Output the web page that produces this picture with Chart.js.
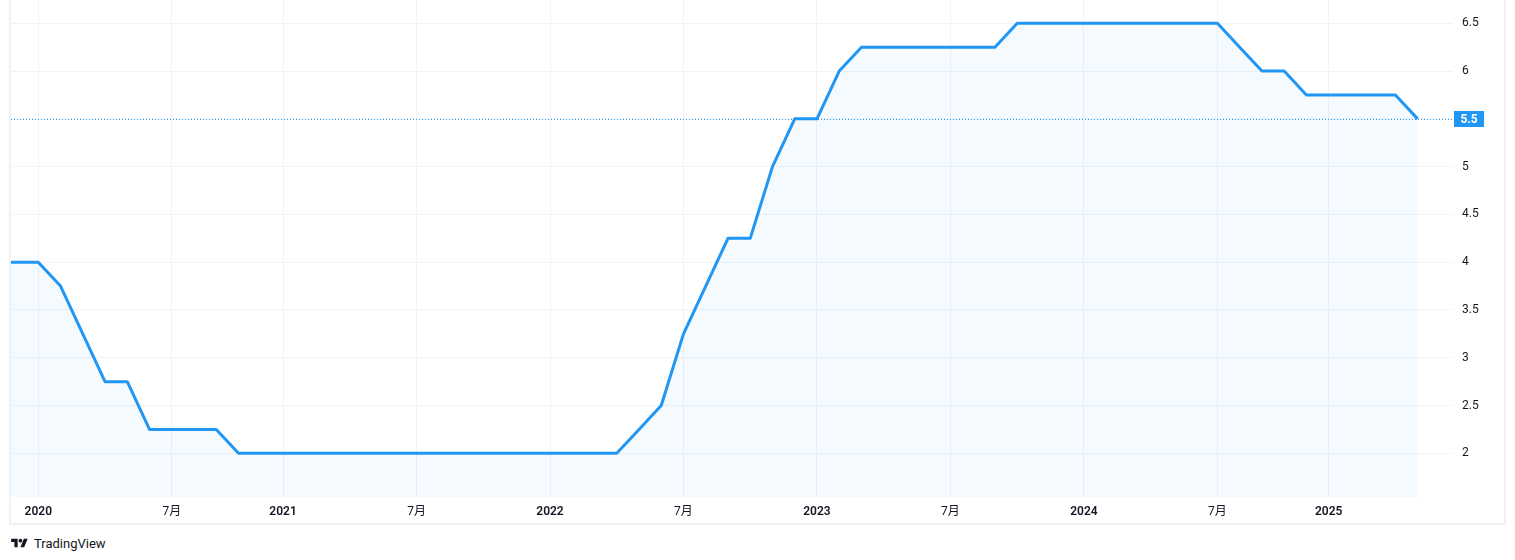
<!DOCTYPE html>
<html>
<head>
<meta charset="utf-8">
<script src="https://cdn.jsdelivr.net/npm/chart.js@4.4.1/dist/chart.umd.min.js"></script>
<style>
  html, body { margin:0; padding:0; background:#fff; width:1515px; height:560px; overflow:hidden; }
  #frame { position:absolute; left:9px; top:-2px; width:1497px; height:527px; border:2px solid #eff1f4; box-sizing:border-box; }
  #wrap { position:absolute; left:11px; top:0; width:1493px; height:523px; }
  #footer { position:absolute; left:10px; top:535px; height:16px; display:flex; align-items:center;
            font:13px Roboto, "Noto Sans", sans-serif; color:#131722; }
  #footer svg { margin-right:5px; }
</style>
</head>
<body>
<div id="frame"></div>
<div id="wrap"><canvas id="rateChart"></canvas></div>
<div id="footer">
  <svg width="19" height="13" viewBox="0 0 36 28"><path d="M14 22H7V11H0V4h14v18zM28 22h-8l7.5-18h8L28 22z" fill="#131722"/><circle cx="20" cy="8" r="4" fill="#131722"/></svg>
  <span>TradingView</span>
</div>
<script>
// ---------- data ----------
const dates = [
    '2019-11','2019-12',
    '2020-01','2020-02','2020-03','2020-04','2020-05','2020-06','2020-07','2020-08','2020-09','2020-10','2020-11',
    '2021-01','2021-02','2021-03','2021-04','2021-05','2021-06','2021-07','2021-08','2021-09','2021-10','2021-11','2021-12',
    '2022-01','2022-02','2022-03','2022-04','2022-05','2022-06','2022-07','2022-08','2022-09','2022-10','2022-11','2022-12',
    '2023-01','2023-02','2023-03','2023-04','2023-05','2023-06','2023-07','2023-08','2023-09','2023-10','2023-11','2023-12',
    '2024-01','2024-02','2024-03','2024-04','2024-05','2024-06','2024-07','2024-09','2024-10','2024-11','2024-12',
    '2025-01','2025-02','2025-03','2025-04','2025-05'
];
const rates = [
    4.0, 4.0,
    4.0, 3.75, 3.25, 2.75, 2.75, 2.25, 2.25, 2.25, 2.25, 2.0, 2.0,
    2.0, 2.0, 2.0, 2.0, 2.0, 2.0, 2.0, 2.0, 2.0, 2.0, 2.0, 2.0,
    2.0, 2.0, 2.0, 2.0, 2.25, 2.5, 3.25, 3.75, 4.25, 4.25, 5.0, 5.5,
    5.5, 6.0, 6.25, 6.25, 6.25, 6.25, 6.25, 6.25, 6.25, 6.5, 6.5, 6.5,
    6.5, 6.5, 6.5, 6.5, 6.5, 6.5, 6.5, 6.25, 6.0, 6.0, 5.75,
    5.75, 5.75, 5.75, 5.75, 5.5
];
const yTicks = [2, 2.5, 3, 3.5, 4, 4.5, 5, 5.5, 6, 6.5];
const julyLabel = '7月';

const LINE = '#2196f3';
const GRID = '#f0f3fa';
const FONT = 'Roboto, "Noto Sans CJK SC", sans-serif';
const lastValue = rates[rates.length - 1];

function tickLabel(d) {
    const [y, m] = d.split('-');
    if (m === '01') return y;
    if (m === '07') return julyLabel;
    return null;
}
const tickIdx = dates.map((d, i) => tickLabel(d) ? i : -1).filter(i => i >= 0);

function noPad(s) { s.paddingTop = 0; s.paddingBottom = 0; s.paddingLeft = 0; s.paddingRight = 0; }

// dotted last-value line + price badge
const lastValuePlugin = {
    id: 'lastValue',
    afterDatasetsDraw(chart) {
        const { ctx, chartArea } = chart;
        const y = Math.round(chart.scales.y.getPixelForValue(lastValue)) + 0.5;
        ctx.save();
        ctx.strokeStyle = LINE;
        ctx.lineWidth = 1;
        ctx.setLineDash([1, 2]);
        ctx.beginPath();
        ctx.moveTo(chartArea.left, y);
        ctx.lineTo(chartArea.right, y);
        ctx.stroke();
        ctx.restore();
    },
    afterDraw(chart) {
        const { ctx, chartArea } = chart;
        const y = chart.scales.y.getPixelForValue(lastValue);
        const x0 = chartArea.right + 1;
        ctx.save();
        ctx.fillStyle = LINE;
        ctx.fillRect(x0, Math.round(y) - 8, 30, 16);
        ctx.fillStyle = '#ffffff';
        ctx.font = 'bold 12px ' + FONT;
        ctx.textAlign = 'center';
        ctx.textBaseline = 'middle';
        ctx.fillText(String(lastValue), x0 + 15, Math.round(y) + 0.5);
        ctx.restore();
    }
};

new Chart(document.getElementById('rateChart'), {
    type: 'line',
    data: {
        datasets: [{
            data: rates.map((v, i) => ({ x: i, y: v })),
            borderColor: LINE,
            borderWidth: 3,
            borderJoinStyle: 'round',
            backgroundColor: 'rgba(33,150,243,0.05)',
            fill: 'start',
            pointRadius: 0,
            tension: 0
        }]
    },
    options: {
        responsive: true,
        maintainAspectRatio: false,
        animation: false,
        devicePixelRatio: 1,
        layout: { padding: 0 },
        plugins: { legend: { display: false }, tooltip: { enabled: false } },
        scales: {
            x: {
                type: 'linear',
                min: 0.773,
                max: 65.588,
                afterBuildTicks: s => { s.ticks = tickIdx.map(v => ({ value: v })); },
                afterFit: s => { s.height = 26; noPad(s); },
                grid: { color: GRID, drawTicks: false },
                border: { display: false },
                ticks: {
                    autoSkip: false,
                    maxRotation: 0,
                    padding: 8,
                    color: '#131722',
                    font: ctx => ({ family: FONT, size: 12,
                        weight: (ctx.tick && tickLabel(dates[ctx.tick.value]) !== julyLabel) ? '600' : '400' }),
                    callback: v => tickLabel(dates[v])
                }
            },
            y: {
                position: 'right',
                min: 1.543,
                max: 6.744,
                afterBuildTicks: s => { s.ticks = yTicks.map(v => ({ value: v })); },
                afterFit: s => { s.width = 51; noPad(s); },
                grid: { color: GRID, drawTicks: false },
                border: { display: false },
                ticks: {
                    crossAlign: 'near',
                    padding: 9,
                    color: '#131722',
                    font: { family: FONT, size: 12 },
                    callback: v => v === lastValue ? '' : String(v)
                }
            }
        }
    },
    plugins: [lastValuePlugin]
});
</script>
</body>
</html>
